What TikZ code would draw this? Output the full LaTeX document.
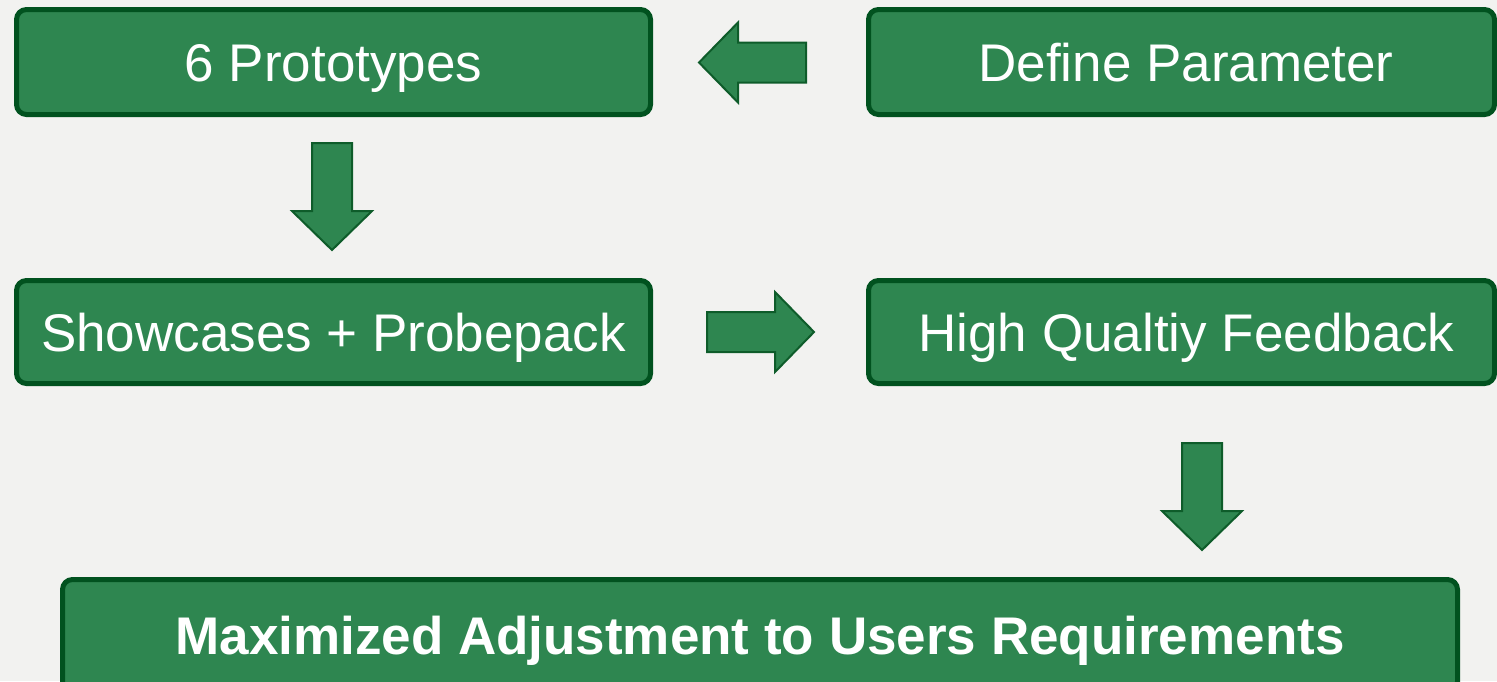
\documentclass[tikz,border=0pt]{standalone}
\usepackage{fontspec}
\setmainfont{Liberation Sans}
\definecolor{bg}{HTML}{F2F2F0}
\definecolor{boxfill}{HTML}{2E8650}
\definecolor{boxline}{HTML}{01521F}
\definecolor{arrline}{HTML}{0E5C2A}
\tikzset{
  stagebox/.style={draw=boxline, line width=2.5pt, fill=boxfill, rounded corners=5pt,
    text=white, font=\fontsize{26.5pt}{30pt}\selectfont, inner sep=0pt,
    text height=19pt, text depth=0pt},
  blockarrow/.pic={
    \draw[draw=arrline, line width=1pt, fill=boxfill]
      (0,-20) -- (68,-20) -- (68,-40) -- (107,0) -- (68,40) -- (68,20) -- (0,20) -- cycle;
  }
}
\begin{document}
\begin{tikzpicture}[x=0.5pt,y=-0.5pt]
  \fill[bg] (0,0) rectangle (1497,681);
  \useasboundingbox (0,0) rectangle (1497,681);
  \clip (0,0) rectangle (1497,681);

  % process stages
  \node[stagebox, minimum width=317pt, minimum height=52.5pt] (proto) at (333.5,62) {6 Prototypes};
  \node[stagebox, minimum width=313pt, minimum height=52.5pt] (param) at (1181.5,62) {\hspace*{4.5pt}Define Parameter};
  \node[stagebox, minimum width=317pt, minimum height=51.5pt] (show) at (333.5,332) {Showcases + Probepack};
  \node[stagebox, minimum width=313pt, minimum height=51.5pt] (feed) at (1181.5,332) {\hspace*{5pt}High Qualtiy Feedback};
  \node[stagebox, minimum width=697.5pt, minimum height=56pt, font=\fontsize{26.5pt}{30pt}\selectfont\bfseries] (adjust) at (760,635.5) {Maximized Adjustment to Users Requirements};

  % flow arrows between the stages
  \pic[rotate=180] at (806,62.5) {blockarrow};
  \pic[rotate=-90] at (332,143) {blockarrow};
  \pic at (707,332) {blockarrow};
  \pic[rotate=-90] at (1202,443) {blockarrow};
\end{tikzpicture}
\end{document}
